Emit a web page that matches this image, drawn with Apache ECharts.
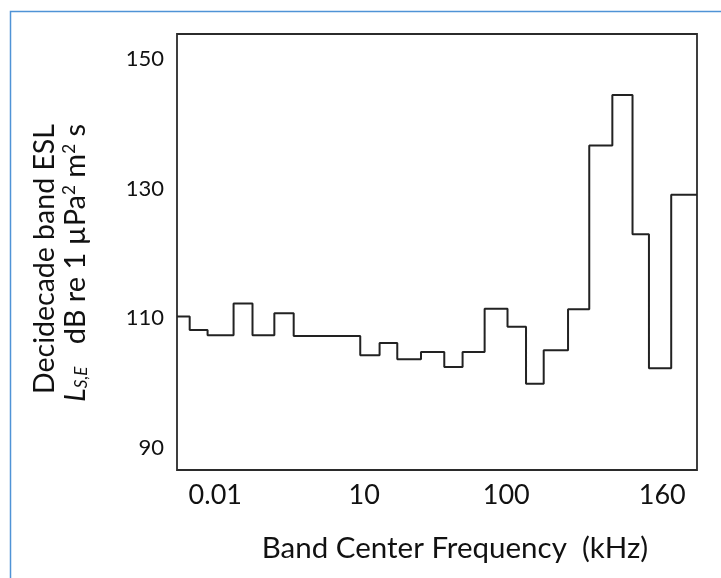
<!DOCTYPE html>
<html>
<head>
<meta charset="utf-8">
<script src="https://cdn.jsdelivr.net/npm/echarts@6/dist/echarts.min.js"></script>
<style>
  html, body { margin: 0; padding: 0; background: #fff; }
  #chart { width: 721px; height: 578px; }
</style>
</head>
<body>
<div id="chart"></div>
<script>
// Band edges (in band-index units along the x axis) and the level of each band (dB)
const bandEdges = [0, 0.61, 1.47, 2.72, 3.63, 4.68, 5.61, 8.81, 9.74, 10.59, 11.73, 12.85, 13.73, 14.79, 15.89, 16.78, 17.63, 18.80, 19.82, 20.93, 21.90, 22.69, 23.76, 25.0];
const bandLevels = [110.3, 108.2, 107.4, 112.3, 107.4, 110.8, 107.3, 104.3, 106.2, 103.7, 104.8, 102.5, 104.8, 111.5, 108.7, 99.9, 105.1, 111.4, 136.7, 144.5, 123.0, 102.3, 129.1];
const xTickPositions = [1.84, 9.0, 15.83, 23.33];
const xTickLabels = ['0.01', '10', '100', '160'];
const yTickValues = [90, 110, 130, 150];

const FONT = 'Lato';

const stepData = bandLevels.map((v, i) => [bandEdges[i], v]);
stepData.push([bandEdges[bandEdges.length - 1], bandLevels[bandLevels.length - 1]]);

const chart = echarts.init(document.getElementById('chart'), null, { renderer: 'canvas' });
chart.setOption({
  animation: false,
  backgroundColor: '#ffffff',
  textStyle: { fontFamily: FONT },
  grid: {
    left: 177, right: 24, top: 34, bottom: 108,
    show: true, borderColor: '#2b2b2b', borderWidth: 1.8, backgroundColor: 'transparent'
  },
  xAxis: {
    type: 'value', min: 0, max: 25,
    axisLine: { show: false }, axisTick: { show: false }, splitLine: { show: false },
    axisLabel: {
      customValues: xTickPositions,
      formatter: function (val) {
        let best = 0;
        for (let i = 1; i < xTickPositions.length; i++) {
          if (Math.abs(xTickPositions[i] - val) < Math.abs(xTickPositions[best] - val)) best = i;
        }
        return xTickLabels[best];
      },
      fontFamily: FONT, fontSize: 27, color: '#111', margin: 12
    },
    name: 'Band Center Frequency  (kHz)',
    nameLocation: 'middle', nameGap: 63,
    nameTextStyle: { fontFamily: FONT, fontSize: 29.5, color: '#111', padding: [0, 0, 0, 36] }
  },
  yAxis: {
    type: 'value', min: 86.6, max: 153.9,
    axisLine: { show: false }, axisTick: { show: false }, splitLine: { show: false },
    axisLabel: {
      customValues: yTickValues,
      fontFamily: FONT, fontSize: 22, color: '#111', margin: 13
    }
  },
  graphic: [
    {
      type: 'rect', silent: true,
      shape: { x: 10.5, y: 11.5, width: 900, height: 900 },
      style: { fill: 'none', stroke: '#4F93D6', lineWidth: 1.5 }
    },
    {
      type: 'text', silent: true,
      x: 45, y: 259, rotation: Math.PI / 2,
      style: {
        text: 'Decidecade band ESL',
        font: '28.5px Lato', fill: '#111', align: 'center', verticalAlign: 'middle'
      }
    },
    {
      type: 'text', silent: true,
      x: 76, y: 263, rotation: Math.PI / 2,
      style: {
        text: '{it|L}{sub|S,E}{n|   dB re 1 µPa}{sup|2}{n| m}{sup|2}{n| s}',
        fill: '#111', align: 'center', verticalAlign: 'middle',
        rich: {
          n: { fontFamily: FONT, fontSize: 29, fill: '#111' },
          it: { fontFamily: FONT, fontSize: 29, fontStyle: 'italic', fill: '#111' },
          sub: { fontFamily: FONT, fontSize: 17, fontStyle: 'italic', fill: '#111', verticalAlign: 'bottom' },
          sup: { fontFamily: FONT, fontSize: 17, fill: '#111', verticalAlign: 'top' }
        }
      }
    }
  ],
  series: [{
    type: 'line',
    step: 'end',
    data: stepData,
    showSymbol: false,
    symbol: 'none',
    lineStyle: { color: '#222', width: 2 },
    clip: true
  }]
});
</script>
</body>
</html>
